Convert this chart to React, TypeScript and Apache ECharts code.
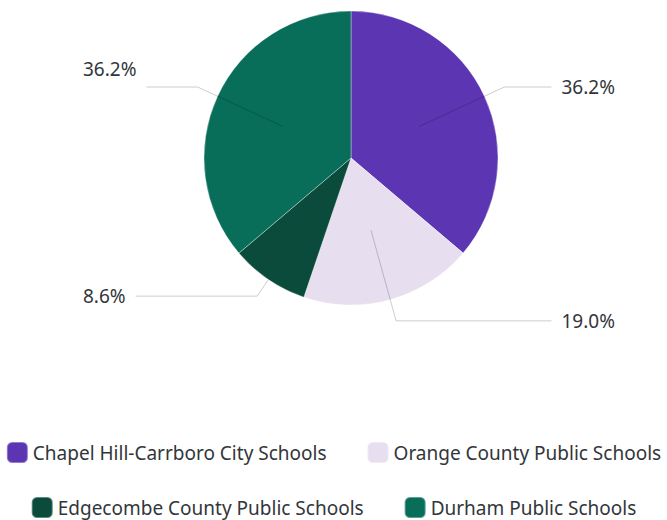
import React, { useEffect, useRef } from "react";
import * as echarts from "echarts";

const categories = [
  "Chapel Hill-Carrboro City Schools",
  "Orange County Public Schools",
  "Edgecombe County Public Schools",
  "Durham Public Schools",
];
const values = [36.2, 19.0, 8.6, 36.2];
const colors = ["#5c35b3", "#e7dff0", "#0a4b3b", "#086e5a"];
// which slices get the long inner-start label line (overlay) vs. outer short one
const innerLabel = [true, true, false, true];

const FONT = "Noto Sans";
const TEXT = "#32363a";

export default function App() {
  const ref = useRef<HTMLDivElement>(null);
  useEffect(() => {
    const chart = echarts.init(ref.current!, undefined, { renderer: "svg" });
    const fmt = (p: any) => Number(p.value).toFixed(1) + "%";
    const boxLeft = 73;
    const boxRight = 42;
    const cx = 351 - boxLeft;
    const cy = 158;
    const labelBase = {
      position: "outside",
      alignTo: "edge",
      edgeDistance: 10,
      distanceToLabelLine: 10,
      formatter: fmt,
      fontFamily: FONT,
      fontSize: 19,
      color: TEXT,
    };
    const lineStyle = { color: "rgba(0,0,0,0.2)", width: 1 };
    const legendBase = {
      left: "center",
      icon: "roundRect",
      itemWidth: 21,
      itemHeight: 21,
      itemGap: 40,
      padding: 0,
      selectedMode: false,
      textStyle: { fontFamily: FONT, fontSize: 19, color: TEXT },
    };
    chart.setOption({
      animation: false,
      legend: [
        { ...legendBase, data: categories.slice(0, 2), top: 441 },
        { ...legendBase, data: categories.slice(2, 4), top: 496 },
      ],
      series: [
        {
          type: "pie",
          left: boxLeft,
          right: boxRight,
          top: 0,
          bottom: 0,
          center: [cx, cy],
          radius: 147,
          startAngle: 90,
          clockwise: true,
          silent: true,
          itemStyle: { borderColor: "rgba(255,255,255,0.35)", borderWidth: 1 },
          labelLine: { length: 20, length2: 10, lineStyle },
          label: labelBase,
          data: categories.map((name, i) => ({
            name,
            value: values[i],
            itemStyle: { color: colors[i] },
            label: { show: !innerLabel[i] },
            labelLine: { show: !innerLabel[i] },
          })),
        },
        {
          type: "pie",
          left: boxLeft,
          right: boxRight,
          top: 0,
          bottom: 0,
          center: [cx, cy],
          radius: 75,
          startAngle: 90,
          clockwise: true,
          silent: true,
          z: 3,
          itemStyle: { color: "rgba(0,0,0,0)" },
          labelLine: { length: 94, length2: 10, lineStyle },
          label: labelBase,
          labelLayout: (p: any) =>
            p.dataIndex === 3
              ? { dy: -18, labelLinePoints: p.labelLinePoints }
              : {},
          data: categories.map((name, i) => ({
            name,
            value: values[i],
            itemStyle: { color: "rgba(0,0,0,0)" },
            label: { show: innerLabel[i] },
            labelLine: { show: innerLabel[i] },
          })),
        },
      ],
    });
    return () => chart.dispose();
  }, []);
  return (
    <div
      ref={ref}
      style={{ position: "fixed", left: 0, top: 0, width: 667, height: 520, background: "#fff" }}
    />
  );
}
